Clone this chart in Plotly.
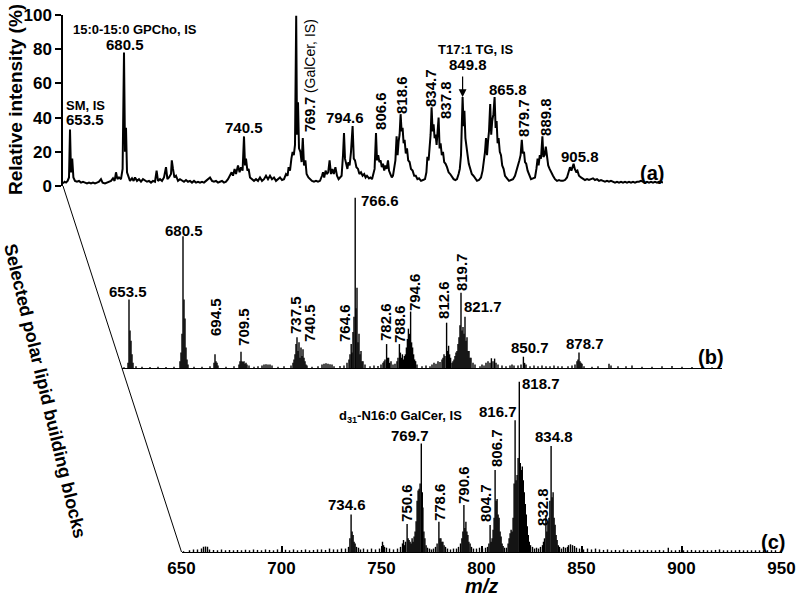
import plotly.graph_objects as go

# ---------------- data ----------------
# (a) full MS profile, relative intensity (%)
a_mz = [
    650.0, 650.8, 651.5, 652.3, 653.0, 653.5, 654.0, 654.6, 655.2, 656.0,
    657.0, 658.0, 659.0, 660.0, 661.0, 662.0, 663.0, 664.0, 665.0, 666.0,
    667.0, 668.0, 669.0, 669.8, 671.0, 672.0, 673.0, 674.0, 675.0, 675.8,
    676.5, 677.2, 678.0, 679.0, 679.8, 680.5, 681.0, 681.5, 682.0, 682.8,
    683.5, 684.5, 685.3, 686.0, 687.0, 688.0, 689.0, 690.0, 691.0, 692.0,
    693.0, 694.0, 695.0, 696.0, 696.8, 697.5, 698.5, 699.5, 700.5, 701.5,
    702.2, 703.0, 704.0, 704.4, 705.0, 705.7, 706.5, 707.5, 708.5, 709.5,
    710.5, 711.5, 712.5, 713.5, 714.5, 715.5, 716.5, 717.5, 718.5, 719.5,
    720.5, 721.5, 722.5, 723.5, 724.5, 725.5, 726.5, 727.5, 728.5, 729.5,
    730.5, 731.5, 732.5, 733.5, 734.3, 735.0, 735.8, 736.5, 737.5, 738.3,
    739.0, 739.8, 740.5, 741.0, 741.5, 742.2, 742.8, 743.5, 744.5, 745.5,
    746.5, 747.5, 748.5, 749.5, 750.5, 751.5, 752.5, 753.5, 754.5, 755.5,
    756.5, 757.5, 758.5, 759.5, 760.5, 761.5, 762.3, 762.8, 763.5, 764.2,
    764.8, 765.4, 766.0, 766.6, 767.0, 767.5, 768.0, 768.7, 769.3, 769.9,
    770.5, 771.2, 771.8, 772.7, 773.5, 774.5, 775.5, 776.5, 777.5, 778.5,
    779.5, 780.0, 780.6, 781.3, 781.9, 782.6, 783.3, 784.0, 784.7, 785.4,
    786.2, 787.0, 787.8, 788.5, 789.3, 790.0, 790.5, 791.0, 791.6, 792.2,
    792.7, 793.3, 794.0, 794.8, 795.4, 796.0, 796.7, 797.5, 798.2, 799.0,
    799.8, 800.6, 801.3, 802.0, 803.0, 803.7, 804.5, 805.2, 805.8, 806.5,
    807.0, 807.6, 808.2, 808.8, 809.4, 810.0, 810.6, 811.2, 811.8, 812.5,
    813.0, 813.7, 814.4, 815.0, 815.6, 816.2, 816.8, 817.3, 817.8, 818.3,
    818.8, 819.3, 819.8, 820.3, 820.8, 821.4, 822.0, 822.6, 823.3, 824.0,
    824.8, 825.6, 826.4, 827.2, 828.0, 829.0, 830.0, 831.0, 831.7, 832.2,
    832.8, 833.3, 833.8, 834.3, 834.8, 835.3, 835.8, 836.3, 836.8, 837.3,
    837.8, 838.3, 838.8, 839.4, 840.0, 840.6, 841.3, 842.0, 842.8, 843.6,
    844.5, 845.3, 846.2, 847.0, 847.8, 848.4, 849.0, 849.4, 849.8, 850.3,
    850.7, 851.2, 851.7, 852.3, 852.9, 853.6, 854.4, 855.2, 856.0, 857.0,
    858.0, 859.0, 859.8, 860.5, 861.0, 861.5, 862.0, 862.5, 863.0, 863.6,
    864.1, 864.6, 865.2, 865.8, 866.3, 866.8, 867.3, 867.8, 868.4, 869.0,
    869.6, 870.3, 871.0, 872.0, 873.0, 874.0, 875.0, 876.0, 876.8, 877.5,
    878.2, 878.8, 879.4, 879.9, 880.5, 881.0, 881.6, 882.3, 883.0, 884.0,
    885.0, 886.0, 886.7, 887.3, 887.8, 888.4, 889.0, 889.7, 890.2, 890.8,
    891.4, 892.0, 892.6, 893.3, 894.0, 895.0, 896.0, 897.0, 898.0, 899.0,
    900.0, 901.0, 902.0, 902.8, 903.5, 904.2, 904.8, 905.3, 905.9, 906.5,
    907.2, 908.0, 909.0, 910.0, 911.0, 912.0, 913.0, 914.0, 915.0, 916.0,
    917.0, 918.0, 919.0, 920.0, 921.0, 922.0, 923.0, 924.0, 925.0, 926.0,
    927.0, 928.0, 929.0, 930.0, 931.0, 932.0, 933.0, 934.0, 935.0, 936.0,
    937.0, 938.0, 939.0, 940.0, 941.0, 942.0, 943.0, 944.0, 945.0, 946.0,
    947.0, 948.0, 949.0, 950.0,
]
a_int = [
    1.5, 2.5, 2.0, 3.0, 5, 33, 8, 16, 5, 3,
    2.5, 3, 2, 2.5, 2, 1.5, 2, 1.5, 2, 1.5,
    2, 2.5, 4, 2, 1.5, 2, 2.5, 3, 4.5, 3,
    8, 4, 5, 4, 10, 78, 20, 34, 8, 5,
    3, 4.5, 3, 5, 3, 4, 2.5, 4, 3, 2.5,
    3, 2, 3, 2.5, 9, 3, 4, 3, 5, 11,
    4, 5, 7, 15, 10, 5, 6, 3, 4, 3,
    2.5, 3.5, 2.5, 3, 2, 3, 2, 2.5, 2, 2.5,
    2, 3, 4, 5, 3, 2.5, 3, 2, 2.5, 3,
    2, 2.5, 4, 6, 8, 6, 10, 7, 12, 8,
    11, 9, 29, 12, 16, 9, 10, 5, 4, 3,
    4, 3, 5, 3, 4, 6, 4, 6, 4, 5,
    3, 4, 5, 3.5, 4, 7, 6, 11, 9, 16,
    20, 18, 24, 99.5, 30, 49, 22, 20, 14, 28,
    12, 15, 7, 5, 4, 3, 2.5, 3, 2.5, 3,
    6, 8, 5, 9, 7, 8, 15, 7, 10, 7,
    11, 6, 4, 5, 6, 18, 31, 16, 13, 10,
    14, 12, 20, 35, 16, 15, 11, 10, 7, 8,
    6, 7, 5, 6, 4.5, 5, 4, 7, 10, 31,
    15, 18, 14, 15, 11, 13, 9, 12, 10, 15,
    9, 7, 5, 6, 12, 15, 29, 18, 26, 30,
    42, 32, 34, 25, 27, 19, 22, 15, 14, 10,
    9, 6, 6, 4, 4.5, 3, 3.5, 4, 8, 17,
    15, 22, 30, 46, 32, 36, 28, 30, 24, 32,
    40, 22, 25, 18, 20, 14, 13, 11, 8, 7,
    5, 4, 3.5, 4, 7, 10, 18, 40, 52, 35,
    44, 28, 22, 18, 13, 10, 7, 6, 4.5, 3,
    3.5, 5, 9, 14, 20, 28, 18, 26, 32, 48,
    30, 38, 42, 52, 34, 38, 25, 28, 20, 18,
    12, 10, 6, 4.5, 3, 3.5, 4, 6, 9, 12,
    15, 18, 27, 19, 20, 14, 13, 9, 7, 4,
    4.5, 5, 10, 16, 12, 18, 16, 29, 17, 18,
    23, 15, 12, 10, 8, 6, 4, 3, 3.5, 3,
    3, 3.5, 5, 8, 11, 9, 12, 13, 10, 8.5,
    9, 6, 5, 4, 3.5, 4, 3.5, 4, 4.5, 3.5,
    4, 3, 3.5, 3, 2.5, 3, 2.5, 3, 2.5, 2,
    2.5, 2, 2.5, 2, 2.5, 2, 2.5, 2, 2.5, 2,
    2.5, 2.5, 3, 2.5, 2, 2.5, 2, 2.5, 2, 2.5,
    2, 2.5, 2.5, 2,
]

# (b) NL 183.1 scan, centroid sticks
b_mz = [
    651.0, 653.0, 653.5, 654.0, 654.5, 655.0, 655.5, 657.0, 660.0, 664.0,
    668.0, 672.0, 676.0, 679.0, 679.5, 680.0, 680.5, 681.0, 681.5, 682.0,
    682.5, 683.0, 686.0, 690.0, 694.0, 696.0, 696.5, 697.0, 697.5, 698.0,
    702.0, 706.0, 708.5, 709.0, 709.5, 710.0, 710.5, 711.0, 711.5, 712.0,
    712.5, 713.5, 716.0, 718.0, 720.0, 721.0, 722.0, 723.0, 724.0, 725.0,
    728.0, 731.0, 734.5, 735.5, 736.0, 736.5, 737.0, 737.5, 738.0, 738.5,
    739.0, 739.5, 740.0, 740.5, 741.0, 741.5, 742.0, 742.5, 745.0, 748.0,
    750.0, 751.0, 752.0, 753.0, 754.0, 755.0, 756.0, 759.0, 761.0, 762.5,
    763.5, 764.0, 764.6, 765.0, 765.5, 766.0, 766.6, 767.0, 767.5, 768.0,
    768.5, 769.0, 769.5, 770.0, 770.5, 771.5, 774.0, 776.0, 778.0, 779.5,
    780.5, 781.0, 781.5, 782.3, 782.8, 783.3, 783.8, 784.5, 785.5, 786.5,
    787.5, 788.0, 788.7, 789.2, 789.7, 790.2, 790.7, 791.2, 791.7, 792.2,
    792.7, 793.2, 793.7, 794.3, 794.8, 795.3, 795.8, 796.3, 796.8, 797.5,
    800.0, 802.0, 804.0, 805.0, 806.0, 807.0, 808.0, 809.0, 810.0, 810.5,
    811.0, 811.5, 812.3, 812.8, 813.3, 813.8, 814.3, 815.0, 815.5, 816.0,
    816.5, 817.0, 817.5, 818.0, 818.5, 819.0, 819.5, 820.0, 820.5, 821.0,
    821.5, 822.0, 822.5, 823.0, 823.5, 824.0, 824.5, 825.5, 826.5, 829.0,
    830.0, 831.0, 832.0, 833.0, 834.0, 834.7, 835.5, 836.3, 837.0, 838.0,
    840.0, 842.0, 844.0, 845.0, 846.0, 848.0, 849.5, 850.7, 851.3, 852.0,
    854.0, 856.0, 858.0, 860.0, 862.0, 864.0, 866.0, 868.0, 870.0, 873.0,
    875.0, 876.5, 877.5, 878.0, 878.5, 879.0, 879.5, 880.0, 881.0, 885.0,
    888.0, 893.5, 894.5, 898.0, 902.0, 905.0, 910.0, 915.0, 920.0, 925.0,
    930.0, 935.0, 940.0, 945.0,
]
b_int = [
    0.5, 3, 40, 22, 16, 8, 3, 1, 0.8, 0.6,
    0.8, 0.6, 0.7, 4, 9, 20, 77, 40, 29, 12,
    5, 2, 0.8, 0.7, 1, 3, 8, 4, 3, 1.5,
    0.8, 1, 2, 4, 9.5, 4, 3.5, 4, 2.5, 3,
    2, 1.5, 0.8, 1, 1.5, 2, 2.2, 2, 2, 1.5,
    0.8, 1, 1.5, 3, 5, 8, 14, 18, 10, 15,
    6, 12, 7, 11, 6, 4, 2, 1.5, 0.8, 1,
    2, 2.5, 2.8, 2.5, 2.2, 2, 1, 1.2, 1.5, 3,
    5, 8, 14, 9, 21, 30, 99.5, 35, 47, 15,
    20, 8, 10, 4, 4, 2, 1, 1.5, 1.2, 2,
    3, 4, 5, 14, 6, 6, 3, 4, 2, 2.5,
    4, 6, 14, 9, 6, 8, 5, 7, 8, 12,
    17, 23, 20, 33, 15, 12, 8, 5, 4, 2,
    1, 1.5, 1, 2, 3, 2.5, 4, 3.5, 5, 6,
    8, 7, 26.5, 10, 13, 8, 6, 3, 4, 5,
    7, 9, 10, 14, 18, 25, 44, 22, 24, 20,
    30, 16, 18, 10, 10, 6, 6, 3, 2, 1,
    2, 1.5, 3, 4, 3, 5.7, 4, 5.5, 3, 2,
    1.5, 1, 1.5, 2, 1.5, 1.5, 2, 6.6, 3, 2,
    1, 1.5, 1, 1.5, 1, 1, 1.5, 1, 1, 1,
    1.5, 2, 4, 5, 9, 4, 3, 2.5, 1, 0.8,
    1, 2.5, 1.5, 1, 1, 1.5, 0.8, 0.8, 1, 1.2,
    0.8, 0.6, 0.6, 0.5,
]

# (c) NL 162.2 scan, centroid sticks
c_mz = [
    651, 654, 656, 658, 660, 661, 662, 663, 664, 666,
    668, 670, 672, 674, 676, 678, 680, 682, 684, 686,
    688, 690, 692, 694, 696, 698, 700, 702, 704, 706,
    708, 710, 712, 714, 716, 718, 720, 722, 724, 726,
    728, 730, 732, 733.5, 734.2, 734.8, 735.3, 735.8, 736.3, 736.8,
    737.5, 738.5, 739.5, 741, 743, 745, 747, 749, 750.5, 751,
    751.5, 752.5, 754, 756, 758, 759.5, 760.5, 761, 761.5, 762,
    762.8, 763.3, 763.8, 764.3, 764.8, 765.3, 765.8, 766.3, 766.8, 767.3,
    767.8, 768.3, 768.8, 769.3, 769.9, 770.4, 770.7, 771.2, 771.7, 772.3,
    773, 774, 775, 776, 777, 777.8, 778.7, 779.2, 779.7, 780.2,
    780.7, 781.3, 782, 783, 784.5, 786, 787.5, 788.5, 789.5, 790.2,
    790.7, 791.2, 791.7, 792.2, 792.7, 793.2, 793.7, 794.3, 795, 796,
    797.5, 799, 800.5, 802, 803, 803.7, 804.3, 804.8, 805.3, 805.8,
    806.3, 806.8, 807.3, 807.8, 808.3, 808.8, 809.3, 809.8, 810.3, 810.8,
    811.5, 812.5, 813.3, 813.8, 814.3, 814.8, 815.3, 815.8, 816.3, 816.8,
    817.3, 817.8, 818.3, 818.9, 819.4, 819.9, 820.4, 820.9, 821.4, 821.9,
    822.4, 822.9, 823.4, 823.9, 824.5, 825.5, 826.5, 827.5, 828.5, 829.5,
    830.5, 831, 831.5, 832.2, 832.7, 833.2, 833.7, 834.2, 834.8, 835.3,
    835.8, 836.3, 836.8, 837.3, 837.8, 838.4, 839, 840, 841, 842,
    843, 843.5, 844.5, 845.5, 846.5, 847.5, 849, 851, 853, 855,
    857, 859, 861, 863, 865, 867, 869, 871, 873, 875,
    877, 879, 881, 883, 885, 887, 889, 891, 893.4, 895,
    897, 899, 901, 903, 905, 907, 909, 911, 913, 915,
    917, 919, 921, 923, 925, 927, 929, 931, 933, 935,
    937, 939, 941, 943, 945, 947,
]
c_int = [
    0.5, 1, 1.5, 1.5, 2, 3, 3.2, 3, 1.5, 1.2,
    1, 1.5, 1, 1.2, 1, 1.2, 1, 1.3, 1, 1.5,
    1.2, 1, 1.5, 1.2, 1, 1.5, 1, 1.3, 1, 1.5,
    1, 1.2, 1.5, 1, 1.2, 1.5, 1.5, 1.2, 2, 1.5,
    1.5, 2, 2, 3, 8, 22, 12, 10, 6, 5,
    3, 2.5, 1.5, 2, 1.5, 2, 1.5, 2, 6, 4,
    3, 2.5, 2, 1.5, 2, 3, 5, 7, 4, 6,
    16.4, 8, 7, 6, 5, 8, 6, 9, 12, 18,
    30, 36, 37, 40, 63.5, 35, 26, 12, 8, 4,
    2.5, 2, 1.5, 2, 3, 5, 17.7, 8, 8, 6,
    6, 4, 3, 2, 1.5, 2, 2, 3, 5, 8,
    12, 27.5, 14, 17.7, 12, 10, 6, 5, 3, 2,
    2, 2.5, 2, 2.5, 3, 5, 15.8, 6, 8, 13,
    20, 48, 30, 31, 22, 20, 12, 9, 5, 3.5,
    2.5, 2.5, 5, 8, 11, 13, 12, 20, 40, 77,
    42, 45, 55, 99.5, 52, 48, 50, 42, 35, 28,
    22, 15, 10, 6, 4, 3, 2, 2.5, 2, 3,
    4, 6, 8, 20.7, 12, 18, 20, 30, 62, 32,
    35, 20, 16, 10, 7, 4, 3, 2, 3, 2.5,
    3, 4, 4.5, 4, 3.5, 2.5, 2, 1.5, 2, 1.5,
    2, 1.5, 1.2, 1.5, 1, 1.2, 1, 1.5, 1, 1.2,
    1, 1.3, 1, 1.2, 1, 1, 1.2, 1, 2.5, 1,
    1, 1.2, 1, 1, 1.2, 1, 1, 1.2, 1, 1,
    1.2, 1.5, 1, 1, 1, 1, 1.2, 1, 1, 1,
    1, 1, 1, 1, 1, 1,
]

assert len(a_mz) == len(a_int)
assert len(b_mz) == len(b_int)
assert len(c_mz) == len(c_int)

mz_ticks = [650, 700, 750, 800, 850, 900, 950]
y_ticks = [0, 20, 40, 60, 80, 100]

FONT = "Liberation Sans, Arial, Helvetica, sans-serif"
W, H = 796, 596


def px(x):
    return x / W


def py(y):
    return 1 - y / H


def sticks(mz, inten):
    # stick spectrum: one vertical segment per centroid
    xs, ys = [], []
    for m, h in zip(mz, inten):
        xs += [m, m, None]
        ys += [0, h, None]
    return xs, ys


fig = go.Figure()

fig.add_trace(go.Scatter(x=a_mz, y=a_int, mode="lines",
                         line=dict(color="black", width=2),
                         xaxis="x", yaxis="y", hoverinfo="skip"))

bx, by = sticks(b_mz, b_int)
fig.add_trace(go.Scatter(x=bx, y=by, mode="lines",
                         line=dict(color="black", width=1.4),
                         xaxis="x2", yaxis="y2", hoverinfo="skip"))

cx, cy = sticks(c_mz, c_int)
fig.add_trace(go.Scatter(x=cx, y=cy, mode="lines",
                         line=dict(color="black", width=1.4),
                         xaxis="x3", yaxis="y3", hoverinfo="skip"))


def lab(text, x, y, ref, size=15, angle=0, xanchor="center", bold=True):
    return dict(text=f"<b>{text}</b>" if bold else text, x=x, y=y,
                xref="x" + ref, yref="y" + ref, showarrow=False,
                textangle=angle, xanchor=xanchor, yanchor="middle",
                font=dict(size=size, family=FONT, color="black"))


ann = [
    # panel (a)
    lab("15:0-15:0 GPCho, IS", 686, 91.8, "", 13),
    lab("680.5", 681, 83, ""),
    lab("SM, IS", 661, 47.2, "", 13),
    lab("653.5", 661, 39.0, ""),
    lab("740.5", 740.5, 34.5, ""),
    lab("766.6", 767, 105.3, ""),
    lab("<b>769.7</b> (GalCer, IS)", 773.5, 64.3, "", 14, -90, bold=False),
    lab("794.6", 791, 39.8, ""),
    lab("806.6", 809, 43.9, "", 15, -90),
    lab("818.6", 819, 53.2, "", 15, -90),
    lab("834.7", 833.5, 57.3, "", 15, -90),
    lab("837.8", 841.5, 50.3, "", 15, -90),
    lab("T17:1 TG, IS", 856, 80, "", 13),
    lab("849.8", 852.5, 71.3, ""),
    lab("865.8", 872.5, 56.7, ""),
    lab("879.7", 880.5, 39.8, "", 15, -90),
    lab("889.8", 891.5, 40.4, "", 15, -90),
    lab("905.8", 908.5, 17.5, ""),
    lab("(a)", 944.5, 7.6, "", 20),
    # panel (b)
    lab("653.5", 653, 45, "2"),
    lab("680.5", 681, 80.7, "2"),
    lab("694.5", 696.5, 29.8, "2", 15, -90),
    lab("709.5", 711, 24, "2", 15, -90),
    lab("737.5", 737, 31, "2", 15, -90),
    lab("740.5", 743.5, 26.3, "2", 15, -90),
    lab("764.6", 761, 26.3, "2", 15, -90),
    lab("766.6", 779, 98.2, "2"),
    lab("782.6", 781.5, 26.9, "2", 15, -90),
    lab("788.6", 788.5, 25.7, "2", 15, -90),
    lab("794.6", 796, 44.4, "2", 15, -90),
    lab("812.6", 811, 39.8, "2", 15, -90),
    lab("819.7", 819.5, 56.1, "2", 15, -90),
    lab("821.7", 830.5, 35.7, "2"),
    lab("850.7", 854, 11.7, "2"),
    lab("878.7", 881.5, 14.6, "2"),
    lab("(b)", 944.5, 6.4, "2", 20),
    lab("NL 183.1", 649, 5.8, "2", 16, xanchor="right"),
    lab("(phospho-", 632.5, -4.7, "2", 13),
    lab("choline)", 632.5, -11.1, "2", 13),
    # panel (c)
    lab("d<sub>31</sub>-N16:0 GalCer, IS", 759.25, 79, "3", 13),
    lab("769.7", 764.25, 68.4, "3"),
    lab("734.6", 732.75, 27.5, "3"),
    lab("750.6", 762.75, 28.7, "3", 15, -90),
    lab("778.6", 778.75, 29.2, "3", 15, -90),
    lab("790.6", 791.25, 39.2, "3", 15, -90),
    lab("804.7", 802.25, 28.7, "3", 15, -90),
    lab("806.7", 807.25, 60.8, "3", 15, -90),
    lab("816.7", 808.25, 81.9, "3"),
    lab("818.7", 829.75, 98.8, "3"),
    lab("834.8", 836.25, 67.3, "3"),
    lab("832.8", 830.25, 26.3, "3", 15, -90),
    lab("(c)", 945.75, 5.8, "3", 20),
    lab("NL 162.2", 645.75, 7.6, "3", 16, xanchor="right"),
    lab("(hexose)", 631.75, -0.6, "3", 13),
]

# arrow onto the T17:1 TG internal standard
ann.append(dict(text="", x=849.8, y=52, xref="x", yref="y", showarrow=True,
                ax=0, ay=-22, arrowhead=2, arrowsize=1.3, arrowwidth=1.2,
                arrowcolor="black", standoff=0))

# axis titles
ann.append(dict(text="<b>Relative intensity (%)</b>", x=px(16), y=py(100),
                xref="paper", yref="paper", showarrow=False, textangle=-90,
                xanchor="center", yanchor="middle",
                font=dict(size=19, family=FONT, color="black")))
ann.append(dict(text="<b>Selected polar lipid building blocks</b>",
                x=px(45), y=py(391), xref="paper", yref="paper",
                showarrow=False, textangle=76.5,
                xanchor="center", yanchor="middle",
                font=dict(size=18, family=FONT, color="black")))
ann.append(dict(text="<b><i>m/z</i></b>", x=800, y=py(586), xref="x3",
                yref="paper", showarrow=False,
                xanchor="center", yanchor="middle",
                font=dict(size=20, family=FONT, color="black")))

# panel geometry (pixels): left edge and baseline of each spectrum
a_left, a_base = 63, 186
b_left, b_base = 122, 368
c_left, c_base = 181.5, 552
pw, ph = 600, 171

fig.update_layout(
    width=W, height=H,
    margin=dict(l=0, r=0, t=0, b=0, autoexpand=False),
    plot_bgcolor="white", paper_bgcolor="white",
    showlegend=False,
    font=dict(family=FONT, color="black"),
    annotations=ann,
    xaxis=dict(domain=[px(a_left), px(a_left + pw)], range=[650, 950],
               anchor="y", visible=False, automargin=False),
    yaxis=dict(domain=[py(a_base), py(a_base - ph)], range=[0, 100],
               anchor="x", showline=True, linecolor="black", linewidth=1.5,
               ticks="outside", ticklen=6, tickwidth=1.5, tickcolor="black",
               tickvals=y_ticks, showgrid=False, zeroline=False,
               automargin=False,
               tickfont=dict(size=17, family=FONT, color="black", weight="bold")),
    xaxis2=dict(domain=[px(b_left), px(b_left + pw)], range=[650, 950],
                anchor="y2", showline=True, linecolor="black", linewidth=1.2,
                ticks="", showticklabels=False, showgrid=False, zeroline=False,
                automargin=False),
    yaxis2=dict(domain=[py(b_base), py(b_base - ph)], range=[0, 100],
                anchor="x2", visible=False, automargin=False),
    xaxis3=dict(domain=[px(c_left), px(c_left + pw)], range=[650, 950],
                anchor="y3", showline=True, linecolor="black", linewidth=1.2,
                ticks="inside", ticklen=6, tickwidth=1.5, tickcolor="black",
                tickvals=mz_ticks, showgrid=False, zeroline=False,
                automargin=False,
                tickfont=dict(size=17, family=FONT, color="black", weight="bold")),
    yaxis3=dict(domain=[py(c_base), py(c_base - ph)], range=[0, 100],
                anchor="x3", visible=False, automargin=False),
)

# the slanted line joining the three spectrum origins
fig.add_shape(type="line", xref="paper", yref="paper",
              x0=px(a_left), y0=py(a_base), x1=px(c_left), y1=py(c_base),
              line=dict(color="black", width=1))

# the page body has a default 8 px margin; drop it so the figure fills the window
fig.write_html("out.html", config={"displayModeBar": False},
               post_script="document.body.style.margin='0px';")
